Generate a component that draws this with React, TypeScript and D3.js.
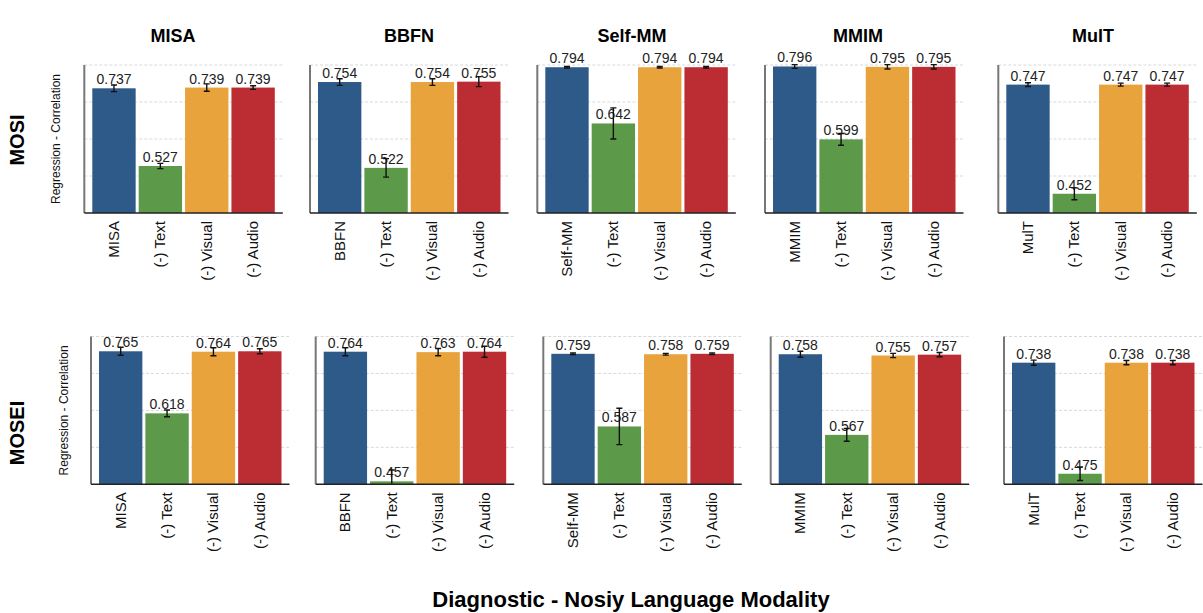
import React from "react";
import * as d3 from "d3";

// data
const models = ["MISA", "BBFN", "Self-MM", "MMIM", "MulT"];
const conditions = ["(-) Text", "(-) Visual", "(-) Audio"];
const datasets = ["MOSI", "MOSEI"];

const mosiValues = [
  [0.737, 0.527, 0.739, 0.739],
  [0.754, 0.522, 0.754, 0.755],
  [0.794, 0.642, 0.794, 0.794],
  [0.796, 0.599, 0.795, 0.795],
  [0.747, 0.452, 0.747, 0.747],
];
const mosiErrors = [
  [0.009, 0.007, 0.01, 0.005],
  [0.009, 0.025, 0.009, 0.0135],
  [0.002, 0.042, 0.002, 0.002],
  [0.005, 0.016, 0.006, 0.006],
  [0.005, 0.016, 0.004, 0.004],
];
const moseiValues = [
  [0.765, 0.618, 0.764, 0.765],
  [0.764, 0.457, 0.763, 0.764],
  [0.759, 0.587, 0.758, 0.759],
  [0.758, 0.567, 0.755, 0.757],
  [0.738, 0.475, 0.738, 0.738],
];
const moseiErrors = [
  [0.0095, 0.008, 0.0095, 0.006],
  [0.0095, 0.027, 0.0087, 0.013],
  [0.002, 0.043, 0.002, 0.002],
  [0.007, 0.015, 0.005, 0.005],
  [0.006, 0.016, 0.005, 0.005],
];
const mosiDomain = [0.4, 0.8];
const moseiDomain = [0.45, 0.8];

const barColors = ["#2e5a8a", "#5c9949", "#e8a33d", "#bc2d33"];
const FONT = "'Liberation Sans', Arial, Helvetica, sans-serif";

// layout
const W = 1203;
const H = 613;
const rowTop = [65, 336.5];
const rowBottom = [213, 484.3];
const panelLefts = [
  [84.3, 310, 537.3, 765, 998.3],
  [91, 315.7, 543.3, 770.7, 1004],
];
const panelWidth = 198.5;
const titleX = [173, 409, 632, 858, 1093];
const rowLabelY = [140, 433];
const yLabelX = [60, 67.5];

const rows = [
  { name: datasets[0], values: mosiValues, errors: mosiErrors, domain: mosiDomain },
  { name: datasets[1], values: moseiValues, errors: moseiErrors, domain: moseiDomain },
];

function Panel({ left, top, bottom, model, values, errors, domain, showYLabel, yLabelPos, clipId }: any) {
  const h = bottom - top;
  const labels = [model, ...conditions];
  const x = d3.scaleBand().domain(labels).range([8, panelWidth - 8]).paddingInner(0.065);
  const y = d3.scaleLinear().domain(domain).range([h, 0]);
  const ticks = d3.range(5).map((i) => domain[0] + ((domain[1] - domain[0]) * i) / 4);
  const bw = x.bandwidth();
  return (
    <g transform={`translate(${left},${top})`}>
      <defs>
        <clipPath id={clipId}>
          <rect x={0} y={-20} width={panelWidth} height={h + 20} />
        </clipPath>
      </defs>
      {ticks.slice(1).map((t, i) => (
        <line key={i} x1={0} x2={panelWidth} y1={y(t)} y2={y(t)} stroke="#d9d9d9" strokeWidth={1} strokeDasharray="3,2" />
      ))}
      {labels.map((l, i) => (
        <rect key={l} x={x(l)} y={y(values[i])} width={bw} height={h - y(values[i])} fill={barColors[i]} />
      ))}
      {labels.map((l, i) => (
        <text key={"v" + l} x={(x(l) as number) + bw / 2} y={y(values[i]) - 4} textAnchor="middle" fontSize={14} fill="#222" fontFamily={FONT}>
          {values[i].toFixed(3)}
        </text>
      ))}
      <g clipPath={`url(#${clipId})`}>
        {labels.map((l, i) => {
          const cx = (x(l) as number) + bw / 2;
          const y1 = y(values[i] + errors[i]);
          const y2 = y(values[i] - errors[i]);
          return (
            <g key={"e" + l} stroke="#111" strokeWidth={1.4}>
              <line x1={cx} x2={cx} y1={y1} y2={y2} />
              <line x1={cx - 3} x2={cx + 3} y1={y1} y2={y1} />
              <line x1={cx - 3} x2={cx + 3} y1={y2} y2={y2} />
            </g>
          );
        })}
      </g>
      <line x1={0} x2={0} y1={0} y2={h} stroke="#777" strokeWidth={2} />
      <line x1={0} x2={panelWidth} y1={h} y2={h} stroke="#222" strokeWidth={1.5} />
      {labels.map((l) => (
        <text
          key={"t" + l}
          transform={`translate(${(x(l) as number) + bw / 2 + 5},${h + 8}) rotate(-90)`}
          textAnchor="end"
          fontSize={15}
          fill="#111"
          fontFamily={FONT}
        >
          {l}
        </text>
      ))}
      {showYLabel && (
        <text
          transform={`translate(${yLabelPos - left},${h / 2}) rotate(-90)`}
          textAnchor="middle"
          fontSize={12}
          fill="#111"
          fontFamily={FONT}
        >
          Regression - Correlation
        </text>
      )}
    </g>
  );
}

export default function App() {
  return (
    <svg width={W} height={H} style={{ position: "absolute", left: 0, top: 0, background: "#fff" }}>
      {models.map((m, i) => (
        <text key={m} x={titleX[i]} y={42} textAnchor="middle" fontSize={18} fontWeight="bold" fontFamily={FONT} fill="#000">
          {m}
        </text>
      ))}
      {rows.map((r, ri) => (
        <g key={r.name}>
          <text
            transform={`translate(24,${rowLabelY[ri]}) rotate(-90)`}
            textAnchor="middle"
            fontSize={20}
            fontWeight="bold"
            fontFamily={FONT}
            fill="#000"
          >
            {r.name}
          </text>
          {models.map((m, mi) => (
            <Panel
              key={m}
              left={panelLefts[ri][mi]}
              top={rowTop[ri]}
              bottom={rowBottom[ri]}
              model={m}
              values={r.values[mi]}
              errors={r.errors[mi]}
              domain={r.domain}
              showYLabel={mi === 0}
              yLabelPos={yLabelX[ri]}
              clipId={`clip-${ri}-${mi}`}
            />
          ))}
        </g>
      ))}
      <text x={631} y={607} textAnchor="middle" fontSize={22} fontWeight="bold" fontFamily={FONT} fill="#000">
        Diagnostic - Nosiy Language Modality
      </text>
    </svg>
  );
}
